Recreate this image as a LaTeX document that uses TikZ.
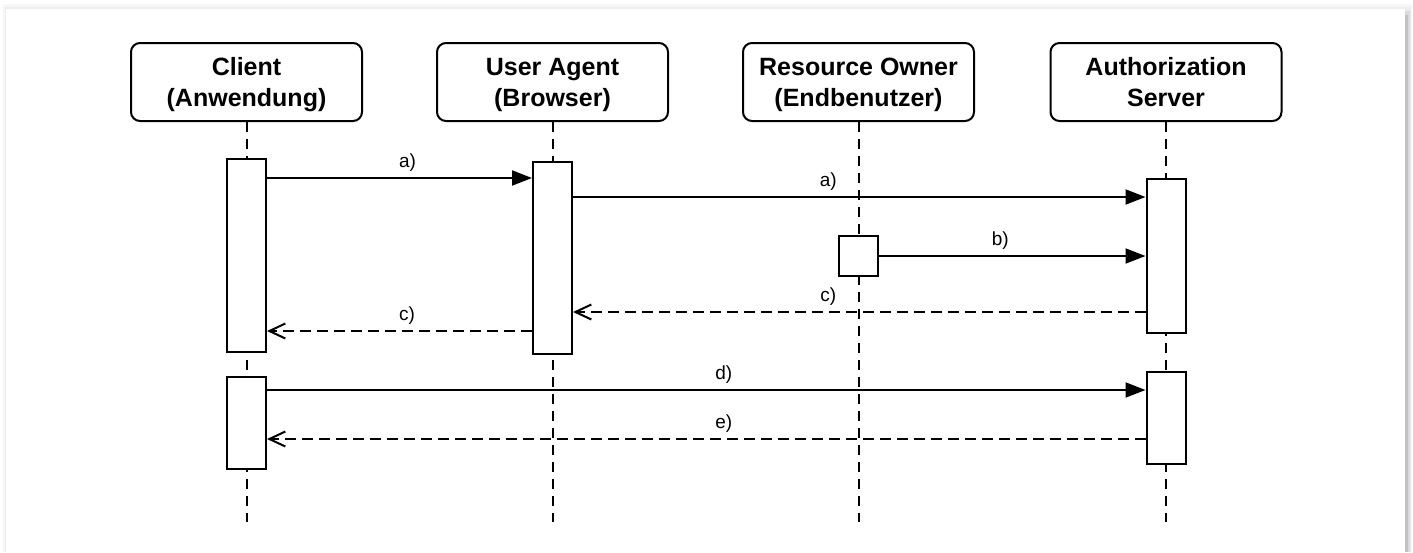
\documentclass[tikz,border=0pt]{standalone}
\usepackage{fontspec}
\setmainfont{Liberation Sans}
\usetikzlibrary{arrows.meta}

\tikzset{
  header/.style={draw, line width=2pt, rounded corners=9pt, fill=white,
    minimum width=231pt, minimum height=78pt, inner sep=0pt},
  headtext/.style={align=center, inner sep=0pt, yshift=-3pt,
    font=\fontsize{25}{31}\selectfont\bfseries},
  actbox/.style={draw, line width=2pt, fill=white, minimum width=39pt, inner sep=0pt},
  lifeline/.style={line width=2pt, dash pattern=on 10pt off 7pt},
  call/.style={line width=2pt, -{Triangle[length=20pt, width=15pt]}},
  reply/.style={line width=2pt, dash pattern=on 11pt off 6pt,
    -{Straight Barb[length=16pt, width=15pt, line width=2pt]}},
  msg/.style={font=\fontsize{19}{21}\selectfont, inner sep=0pt, yshift=15pt}
}

\begin{document}
\begin{tikzpicture}[x=1pt, y=-1pt]
  % page and card with soft shadow
  \useasboundingbox (0,0) rectangle (1413,552);
  \fill[white] (0,0) rectangle (1413,552);
  \fill[gray!6] (3,4) rectangle (1412,552);
  \fill[gray!13] (5,7) rectangle (1411,552);
  \fill[gray!28] (1405,11) rectangle (1410,552);
  \fill[gray!48] (1405,15) rectangle (1408,552);
  \fill[white] (6,9) rectangle (1405,552);

  % participants
  \node[header] (cl) at (246.5,82) {};
  \node[header] (ua) at (552.5,82) {};
  \node[header] (ro) at (858.5,82) {};
  \node[header] (as) at (1166,82) {};
  \node[headtext] (clt) at (cl.center) {\strut Client\\\strut (Anwendung)};
  \node[headtext] (uat) at (ua.center) {\strut User Agent\\\strut (Browser)};
  \node[headtext] (rot) at (ro.center) {\strut Resource Owner\\\strut (Endbenutzer)};
  \node[headtext] (ast) at (as.center) {\strut Authorization\\\strut Server};

  % lifeline ends
  \coordinate (end) at (0,522);
  \draw[lifeline] (cl.south) -- (cl.south |- end);
  \draw[lifeline] (ua.south) -- (ua.south |- end);
  \draw[lifeline] (ro.south) -- (ro.south |- end);
  \draw[lifeline] (as.south) -- (as.south |- end);

  % activation bars
  \node[actbox, minimum height=193pt] (c1) at (246.5,255.5) {};
  \node[actbox, minimum height=192pt] (u1) at (552.5,258) {};
  \node[actbox, minimum height=40pt]  (r1) at (858.5,256) {};
  \node[actbox, minimum height=154pt] (s1) at (1166,256) {};
  \node[actbox, minimum height=92pt]  (c2) at (246.5,423) {};
  \node[actbox, minimum height=92pt]  (s2) at (1166,418) {};

  % message rows
  \coordinate (ya) at (0,178);
  \coordinate (yb) at (0,197);
  \coordinate (yc) at (0,256);
  \coordinate (yd) at (0,312);
  \coordinate (ye) at (0,331);
  \coordinate (yf) at (0,390);
  \coordinate (yg) at (0,439);

  % messages
  \draw[call] (c1.east |- ya) -- node[msg, pos=0.53] {a)} (u1.west |- ya);
  \draw[call] (u1.east |- yb) -- node[msg, pos=0.446] {a)} (s1.west |- yb);
  \draw[call] (r1.east |- yc) -- node[msg, pos=0.455] {b)} (s1.west |- yc);
  \draw[reply] (s1.west |- yd) -- node[msg, pos=0.554] {c)} (u1.east |- yd);
  \draw[reply] (u1.west |- ye) -- node[msg, pos=0.472] {c)} (c1.east |- ye);
  \draw[call] (c2.east |- yf) -- node[msg, pos=0.52] {d)} (s2.west |- yf);
  \draw[reply] (s2.west |- yg) -- node[msg, pos=0.48] {e)} (c2.east |- yg);
\end{tikzpicture}
\end{document}
